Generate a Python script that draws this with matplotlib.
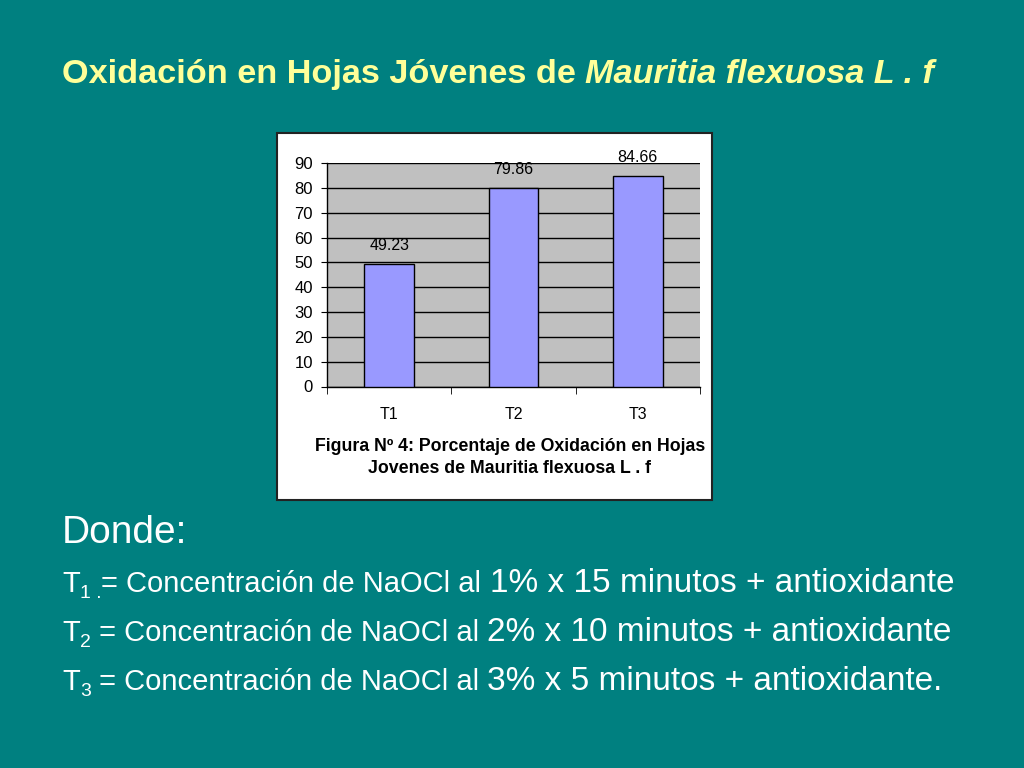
import matplotlib.pyplot as plt
from matplotlib.patches import Rectangle

# data
categories = ['T1', 'T2', 'T3']
oxidation = [49.23, 79.86, 84.66]
value_labels = ['49.23', '79.86', '84.66']

title_plain = 'Oxidación en Hojas Jóvenes de '
title_italic = 'Mauritia flexuosa L . f'
caption = 'Figura Nº 4: Porcentaje de Oxidación en Hojas\nJovenes de Mauritia flexuosa L . f'
legend_rows = [
    ('1 .', '= Concentración de NaOCl al ', '1% x 15 minutos + antioxidante'),
    ('2', ' = Concentración de NaOCl al ', '2% x 10 minutos + antioxidante'),
    ('3', ' = Concentración de NaOCl al ', '3% x 5 minutos + antioxidante.'),
]

W, H = 1024, 768
BG = '#008080'
FONT = 'Liberation Sans'

fig = plt.figure(figsize=(W / 100, H / 100), dpi=100, facecolor=BG)
renderer = fig.canvas.get_renderer()


def px(x, y):
    # pixel coords (top-left origin) -> figure fraction
    return x / W, 1 - y / H


def chain(x, y, pieces):
    # draw text pieces one after another on the same baseline
    for txt, kw, dy in pieces:
        t = fig.text(*px(x, y + dy), txt, va='baseline', ha='left', family=FONT, **kw)
        bb = t.get_window_extent(renderer)
        x += bb.width
    return x


# title
chain(62, 83, [
    (title_plain, dict(fontsize=24.7, weight='bold', color='#FFFF99'), 0),
    (title_italic, dict(fontsize=24.7, weight='bold', style='italic', color='#FFFF99'), 0),
])

# white chart box
fig.patches.append(Rectangle(px(277, 500), 435 / W, 367 / H, transform=fig.transFigure,
                             facecolor='white', edgecolor='#222222', linewidth=1.5, zorder=-1))

ax = fig.add_axes([327 / W, 1 - 386.5 / H, 373 / W, 223.5 / H])
ax.set_zorder(2)
ax.set_facecolor('#C0C0C0')
x = list(range(len(categories)))
bars = ax.bar(x, oxidation, width=0.4, color='#9999FF', edgecolor='black', linewidth=1, zorder=3)
for xi, v, lab in zip(x, oxidation, value_labels):
    ax.annotate(lab, (xi, v), xytext=(0, 8), textcoords='offset points', ha='center',
                va='bottom', fontsize=11.5, family=FONT, annotation_clip=False)

ax.set_xlim(-0.5, 2.5)
ax.set_ylim(0, 90)
ax.set_yticks(range(0, 91, 10))
ax.yaxis.grid(True, color='black', linewidth=1, zorder=1)
ax.set_axisbelow(True)
ax.set_xticks(x)
ax.set_xticklabels(categories, fontsize=11.5, family=FONT)
ax.set_xticks([-0.5, 0.5, 1.5, 2.5], minor=True)
ax.tick_params(axis='x', which='major', length=0, pad=15)
ax.tick_params(axis='x', which='minor', length=5, direction='out', color='black')
ax.tick_params(axis='y', length=4, direction='out', pad=6, labelsize=12)
for lab in ax.get_yticklabels():
    lab.set_family(FONT)
for s in ['top', 'right']:
    ax.spines[s].set_visible(False)
for s in ['left', 'bottom']:
    ax.spines[s].set_color('black')
    ax.spines[s].set_linewidth(1)

fig.text(*px(510, 457.5), caption, ha='center', va='center', fontsize=12.8, weight='bold',
         family=FONT, linespacing=1.45, zorder=3)

# text under the chart
fig.text(*px(62, 543), 'Donde:', fontsize=28, color='white', family=FONT, va='baseline')
for i, (sub, small, big) in enumerate(legend_rows):
    y = 592 + i * 49
    chain(62, y, [
        ('T', dict(fontsize=21, color='white'), 0),
        (sub, dict(fontsize=14, color='white'), 6),
        (small, dict(fontsize=21, color='white'), 0),
        (big, dict(fontsize=24, color='white'), 0),
    ])

fig.savefig('out.png', dpi=100, facecolor=BG)
